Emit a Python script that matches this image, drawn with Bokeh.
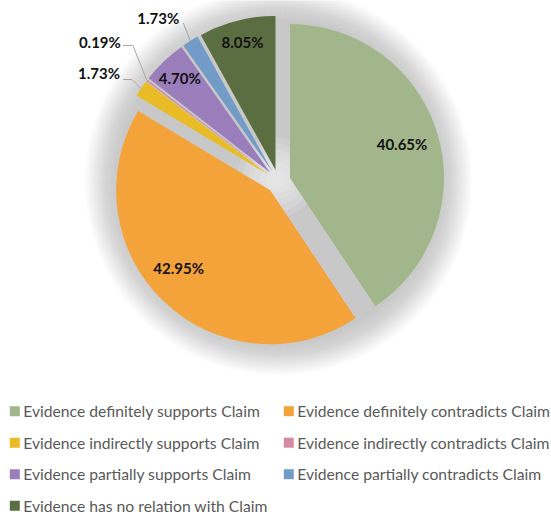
import numpy as np
from bokeh.plotting import figure
from bokeh.models import Range1d, ColumnDataSource
from bokeh.core.properties import value
from bokeh.embed import file_html
from bokeh.resources import INLINE

# ---------------- data ----------------
categories = [
    "Evidence definitely supports Claim",
    "Evidence definitely contradicts Claim",
    "Evidence indirectly supports Claim",
    "Evidence indirectly contradicts Claim",
    "Evidence partially supports Claim",
    "Evidence partially contradicts Claim",
    "Evidence has no relation with Claim",
]
percent = [40.65, 42.95, 1.73, 0.19, 4.70, 1.73, 8.05]
colors = ["#A2B68C", "#F4A23A", "#E9BB24", "#D48AA2", "#9A7EBC", "#739BC8", "#5B6E42"]

# ---------------- layout ----------------
W, H = 551, 515
CX, CY = 278, H - 181
R = 154
EXPLODE = 12
# inside label radius fraction (None -> outside label with leader)
label_r = [0.76, 0.78, None, None, 0.85, None, 0.855]
label_da = [0, 6, 0, 0, 0, 0, 0]   # extra clockwise rotation of label (deg)
# outside leader: elbow offset from slice edge (screen px), tail length, text offset
leader = {
    2: dict(dx=-9, dy=-9, tail=9, tx=-3, ty=-6),
    3: dict(dx=-14, dy=-35, tail=10, tx=-2, ty=-3),
    5: dict(dx=-7, dy=-18, tail=0, tx=-4, ty=-5),
}

vals = np.array(percent, dtype=float)
frac = vals / vals.sum()
cum = np.concatenate([[0], np.cumsum(frac)])
a0 = 2 * np.pi * cum[:-1]          # clockwise from 12 o'clock
a1 = 2 * np.pi * cum[1:]
start = np.pi / 2 - a1
end = np.pi / 2 - a0
mid = np.pi / 2 - (a0 + a1) / 2
vx = CX + EXPLODE * np.cos(mid)
vy = CY + EXPLODE * np.sin(mid)

p = figure(width=W, height=H, x_range=Range1d(0, W), y_range=Range1d(0, H),
           output_backend="svg", toolbar_location=None, min_border=0)
p.axis.visible = False
p.grid.visible = False
p.outline_line_color = None
p.background_fill_color = "white"
p.border_fill_color = "white"

# soft shadow / glow behind the pie
for r in np.arange(194, 160, -1):
    p.circle(x=[CX], y=[CY], radius=r, fill_color="#a8a8a8", fill_alpha=0.024,
             line_color=None)
for r in np.arange(40, 4, -6):
    p.circle(x=[CX - 2], y=[CY + 4], radius=r, fill_color="white", fill_alpha=0.12,
             line_color=None)

src = ColumnDataSource(dict(x=vx, y=vy, start=start, end=end, color=colors))
p.wedge(x="x", y="y", radius=R, start_angle="start", end_angle="end",
        direction="anticlock", fill_color="color", line_color=None, source=src)

# labels
lab_txt = [f"{v:.2f}%" for v in percent]
in_x, in_y, in_t = [], [], []
out_x, out_y, out_t = [], [], []
lx, ly = [], []
for i, t in enumerate(lab_txt):
    if label_r[i] is not None:
        ang = mid[i] - np.deg2rad(label_da[i])
        in_x.append(vx[i] + label_r[i] * R * np.cos(ang))
        in_y.append(vy[i] + label_r[i] * R * np.sin(ang))
        in_t.append(t)
    else:
        L = leader[i]
        ox = vx[i] + R * np.cos(mid[i])
        oy = vy[i] + R * np.sin(mid[i])
        ex, ey = ox + L["dx"], oy - L["dy"]
        tx2 = ex - L["tail"]
        lx.append([ox, ex, tx2])
        ly.append([oy, ey, ey])
        out_x.append(tx2 + L["tx"])
        out_y.append(ey - L["ty"])
        out_t.append(t)

p.multi_line(xs=lx, ys=ly, line_color="#A6A6A6", line_width=1)
p.text(x=in_x, y=in_y, text=in_t, text_align="center", text_baseline="middle",
       text_font=value("Lato"), text_font_style="bold", text_font_size="15px",
       text_color="#111111")
p.text(x=out_x, y=out_y, text=out_t, text_align="right", text_baseline="middle",
       text_font=value("Lato"), text_font_style="bold", text_font_size="15px",
       text_color="#111111")

# legend (2 columns)
col_x = [14.3, 288.3]
row_y0, row_dy = 410.7, 31.5
sq_x, sq_y, tx_, ty_ = [], [], [], []
for i, c in enumerate(categories):
    col, row = i % 2, i // 2
    yy = H - (row_y0 + row * row_dy)
    sq_x.append(col_x[col])
    sq_y.append(yy)
    tx_.append(col_x[col] + 8.4)
    ty_.append(yy)
p.rect(x=sq_x, y=sq_y, width=10, height=10, fill_color=colors, line_color=None)
p.text(x=tx_, y=ty_, text=categories, text_align="left", text_baseline="middle",
       text_font=value("Lato"), text_font_size="15.7px", text_color="#595959")

open("out.html", "w").write(file_html(p, INLINE))
